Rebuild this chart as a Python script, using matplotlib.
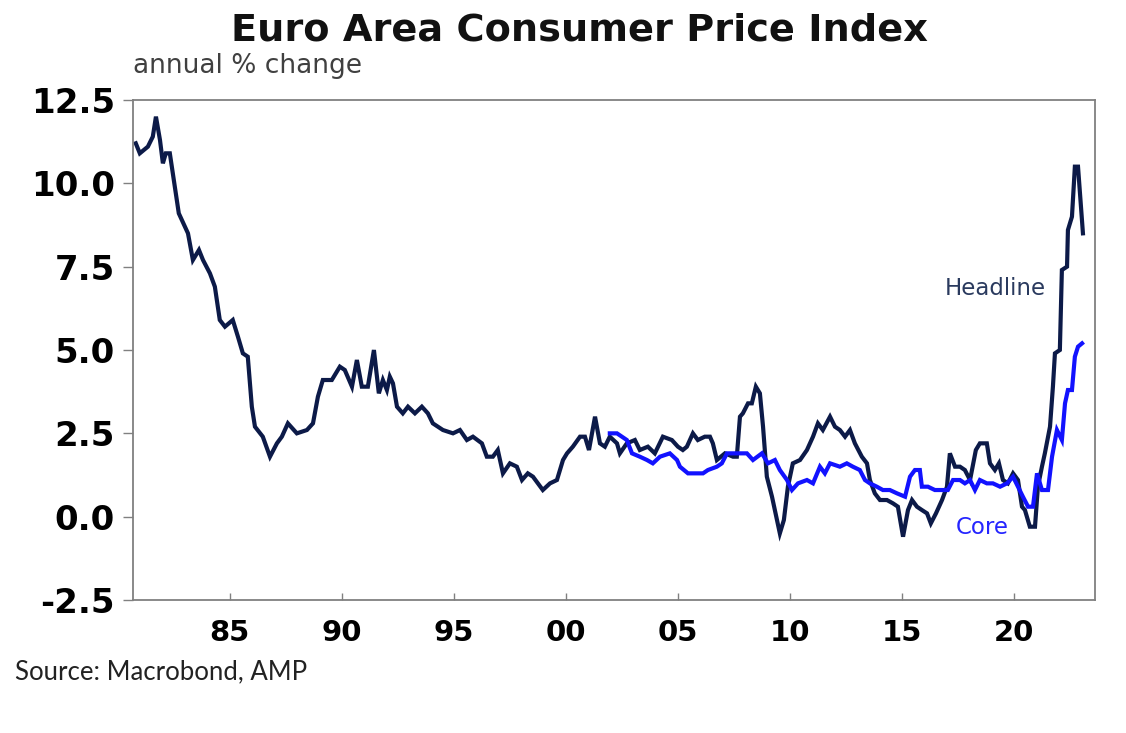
import matplotlib
matplotlib.use("Agg")
import numpy as np
import matplotlib.pyplot as plt
from matplotlib.ticker import FixedLocator

# Headline CPI, annual % change
headline_year = [
    1980.80, 1980.98, 1981.34, 1981.56, 1981.70, 1981.88, 1982.01, 1982.14, 1982.32,
    1982.72, 1983.13, 1983.35, 1983.62, 1983.80, 1984.11, 1984.33, 1984.55, 1984.78,
    1985.13, 1985.36, 1985.58, 1985.80, 1985.98, 1986.12, 1986.47, 1986.79, 1987.10,
    1987.32, 1987.59, 1987.99, 1988.44, 1988.71, 1988.93, 1989.15, 1989.55, 1989.91,
    1990.13, 1990.45, 1990.67, 1990.89, 1991.16, 1991.43, 1991.65, 1991.83, 1992.01,
    1992.14, 1992.28, 1992.46, 1992.72, 1992.95, 1993.26, 1993.57, 1993.84, 1994.06,
    1994.51, 1994.96, 1995.27, 1995.58, 1995.85, 1996.25, 1996.47, 1996.74, 1996.96,
    1997.19, 1997.50, 1997.81, 1998.04, 1998.30, 1998.53, 1998.97, 1999.29, 1999.60,
    1999.87, 2000.05, 2000.31, 2000.63, 2000.85, 2001.03, 2001.30, 2001.52, 2001.74,
    2001.96, 2002.28, 2002.41, 2002.72, 2003.08, 2003.30, 2003.66, 2003.97, 2004.33,
    2004.73, 2005.00, 2005.22, 2005.40, 2005.67, 2005.89, 2006.20, 2006.43, 2006.56,
    2006.74, 2007.10, 2007.46, 2007.63, 2007.77, 2007.90, 2008.13, 2008.30, 2008.48,
    2008.66, 2008.80, 2008.97, 2009.20, 2009.42, 2009.55, 2009.73, 2009.91, 2010.13,
    2010.45, 2010.76, 2011.03, 2011.25, 2011.47, 2011.79, 2012.01, 2012.23, 2012.46,
    2012.68, 2012.90, 2013.21, 2013.44, 2013.57, 2013.79, 2014.02, 2014.33, 2014.60,
    2014.82, 2015.05, 2015.27, 2015.45, 2015.67, 2015.89, 2016.12, 2016.29, 2016.52,
    2016.79, 2017.01, 2017.14, 2017.37, 2017.59, 2017.81, 2018.04, 2018.30, 2018.48,
    2018.79, 2018.93, 2019.15, 2019.33, 2019.51, 2019.73, 2019.96, 2020.18, 2020.36,
    2020.49, 2020.71, 2020.94, 2021.07, 2021.25, 2021.38, 2021.61, 2021.74, 2021.83,
    2022.05, 2022.14, 2022.37, 2022.41, 2022.59, 2022.72, 2022.86, 2023.08,
]
headline = [
    11.2, 10.9, 11.1, 11.4, 12.0, 11.3, 10.6, 10.9, 10.9,
    9.1, 8.5, 7.7, 8.0, 7.7, 7.3, 6.9, 5.9, 5.7,
    5.9, 5.4, 4.9, 4.8, 3.3, 2.7, 2.4, 1.8, 2.2,
    2.4, 2.8, 2.5, 2.6, 2.8, 3.6, 4.1, 4.1, 4.5,
    4.4, 3.9, 4.7, 3.9, 3.9, 5.0, 3.7, 4.1, 3.8,
    4.2, 4.0, 3.3, 3.1, 3.3, 3.1, 3.3, 3.1, 2.8,
    2.6, 2.5, 2.6, 2.3, 2.4, 2.2, 1.8, 1.8, 2.0,
    1.3, 1.6, 1.5, 1.1, 1.3, 1.2, 0.8, 1.0, 1.1,
    1.7, 1.9, 2.1, 2.4, 2.4, 2.0, 3.0, 2.2, 2.1,
    2.4, 2.2, 1.9, 2.2, 2.3, 2.0, 2.1, 1.9, 2.4,
    2.3, 2.1, 2.0, 2.1, 2.5, 2.3, 2.4, 2.4, 2.2,
    1.7, 1.9, 1.8, 1.8, 3.0, 3.1, 3.4, 3.4, 3.9,
    3.7, 2.7, 1.2, 0.6, -0.1, -0.5, -0.1, 0.9, 1.6,
    1.7, 2.0, 2.4, 2.8, 2.6, 3.0, 2.7, 2.6, 2.4,
    2.6, 2.2, 1.8, 1.6, 1.1, 0.7, 0.5, 0.5, 0.4,
    0.3, -0.6, 0.2, 0.5, 0.3, 0.2, 0.1, -0.2, 0.1,
    0.5, 0.9, 1.9, 1.5, 1.5, 1.4, 1.1, 2.0, 2.2,
    2.2, 1.6, 1.4, 1.6, 1.1, 1.0, 1.3, 1.1, 0.3,
    0.2, -0.3, -0.3, 0.9, 1.5, 1.9, 2.7, 3.9, 4.9,
    5.0, 7.4, 7.5, 8.6, 9.0, 10.5, 10.5, 8.5,
]

# Core CPI, annual % change
core_year = [
    2001.96, 2002.28, 2002.72, 2002.95, 2003.30, 2003.62, 2003.88, 2004.20, 2004.64,
    2004.96, 2005.09, 2005.45, 2005.76, 2006.12, 2006.34, 2006.74, 2006.96, 2007.19,
    2007.63, 2008.08, 2008.35, 2008.75, 2009.02, 2009.33, 2009.55, 2009.87, 2010.09,
    2010.36, 2010.76, 2011.03, 2011.34, 2011.56, 2011.79, 2012.23, 2012.54, 2012.81,
    2013.12, 2013.35, 2013.57, 2013.88, 2014.15, 2014.46, 2014.78, 2015.14, 2015.36,
    2015.58, 2015.80, 2015.89, 2016.16, 2016.47, 2016.79, 2017.05, 2017.28, 2017.59,
    2017.81, 2018.04, 2018.26, 2018.48, 2018.79, 2019.06, 2019.38, 2019.69, 2019.96,
    2020.18, 2020.40, 2020.63, 2020.85, 2021.03, 2021.25, 2021.52, 2021.70, 2021.92,
    2022.14, 2022.28, 2022.41, 2022.59, 2022.72, 2022.86, 2023.04,
]
core = [
    2.5, 2.5, 2.3, 1.9, 1.8, 1.7, 1.6, 1.8, 1.9,
    1.7, 1.5, 1.3, 1.3, 1.3, 1.4, 1.5, 1.6, 1.9,
    1.9, 1.9, 1.7, 1.9, 1.6, 1.7, 1.4, 1.1, 0.8,
    1.0, 1.1, 1.0, 1.5, 1.3, 1.6, 1.5, 1.6, 1.5,
    1.4, 1.1, 1.0, 0.9, 0.8, 0.8, 0.7, 0.6, 1.2,
    1.4, 1.4, 0.9, 0.9, 0.8, 0.8, 0.8, 1.1, 1.1,
    1.0, 1.1, 0.8, 1.1, 1.0, 1.0, 0.9, 1.0, 1.2,
    0.9, 0.6, 0.3, 0.3, 1.3, 0.8, 0.8, 1.8, 2.6,
    2.3, 3.4, 3.8, 3.8, 4.8, 5.1, 5.2,
]

x_ticks = [1985, 1990, 1995, 2000, 2005, 2010, 2015, 2020]
x_tick_labels = ["85", "90", "95", "00", "05", "10", "15", "20"]
y_ticks = [-2.5, 0.0, 2.5, 5.0, 7.5, 10.0, 12.5]

navy = "#0c1a48"
blue = "#1212ff"
grey = "#808080"

fig = plt.figure(figsize=(11.26, 7.33), dpi=100)
fig.patch.set_facecolor("white")
ax = fig.add_axes([0.118, 0.1814, 0.8545, 0.6822])

ax.plot(headline_year, headline, color=navy, lw=3.0, solid_joinstyle="miter")
ax.plot(core_year, core, color=blue, lw=3.0, solid_joinstyle="miter")

ax.set_xlim(1980.67, 2023.62)
ax.set_ylim(-2.5, 12.5)
ax.xaxis.set_major_locator(FixedLocator(x_ticks))
ax.set_xticklabels(x_tick_labels)
ax.set_yticks(y_ticks)
ax.set_yticklabels(["{:.1f}".format(v) for v in y_ticks])

for s in ax.spines.values():
    s.set_color(grey)
    s.set_linewidth(1.3)

ax.tick_params(axis="x", direction="in", length=5, width=1, color=grey, pad=14,
               labelsize=21)
ax.tick_params(axis="y", direction="out", length=7, width=1, color=grey, pad=6,
               labelsize=24.5)
for lab in ax.get_xticklabels() + ax.get_yticklabels():
    lab.set_fontweight("bold")
    lab.set_fontfamily("DejaVu Sans")

ax.text(2016.92, 6.85, "Headline", color="#2a3a5e", fontsize=16.5,
        va="center", ha="left", family="DejaVu Sans")
ax.text(2017.41, -0.33, "Core", color="#2525ff", fontsize=16.5,
        va="center", ha="left", family="DejaVu Sans")

fig.text(0.515, 0.959, "Euro Area Consumer Price Index", ha="center", va="center",
         fontsize=27.5, fontweight="bold", family="DejaVu Sans", color="#111111")
fig.text(0.118, 0.91, "annual % change", ha="left", va="center",
         fontsize=19, family="DejaVu Sans", color="#404040")
fig.text(0.013, 0.083, "Source: Macrobond, AMP", ha="left", va="center",
         fontsize=18.5, family="Lato", color="#222222")

fig.savefig("out.png", dpi=100, facecolor="white")
